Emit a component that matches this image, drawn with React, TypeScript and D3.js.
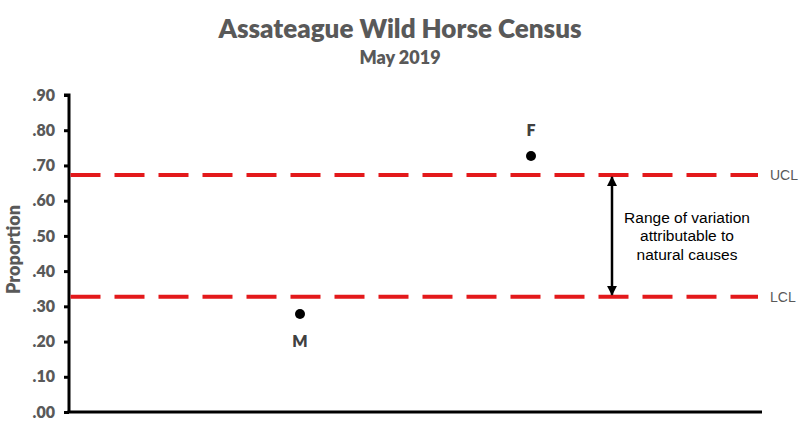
import React, { useEffect, useRef } from 'react';
import * as d3 from 'd3';

const categories = ['M', 'F'];
const proportions = [0.278, 0.727];
const yTicks = [0, 0.1, 0.2, 0.3, 0.4, 0.5, 0.6, 0.7, 0.8, 0.9];
const controlLimits = [
  { name: 'UCL', value: 0.673 },
  { name: 'LCL', value: 0.327 },
];
const noteLines = ['Range of variation', 'attributable to', 'natural causes'];

const W = 803;
const H = 433;

export default function App() {
  const svgRef = useRef<SVGSVGElement>(null);

  useEffect(() => {
    if (!svgRef.current) return;
    const svg = d3.select(svgRef.current);
    svg.selectAll('*').remove();

    const margin = { top: 95, right: 41, bottom: 21, left: 69 };
    const x0 = margin.left;
    const x1 = W - margin.right;
    const y0 = H - margin.bottom;

    const x = d3.scalePoint<string>().domain(categories).range([x0, x1]).padding(1);
    const y = d3.scaleLinear().domain([0, 0.9]).range([y0, margin.top]);

    const grey = '#595959';
    const font = 'Lato, "Open Sans", sans-serif';

    // titles
    svg.append('text')
      .attr('x', 400).attr('y', 38)
      .attr('text-anchor', 'middle')
      .style('font-family', font).style('font-weight', 800)
      .style('font-size', '26px').style('fill', grey)
      .text('Assateague Wild Horse Census');
    svg.append('text')
      .attr('x', 400).attr('y', 64)
      .attr('text-anchor', 'middle')
      .style('font-family', font).style('font-weight', 800)
      .style('font-size', '18px').style('fill', grey)
      .text('May 2019');

    // y axis
    const yAxis = d3.axisLeft(y)
      .tickValues(yTicks)
      .tickSize(5)
      .tickFormat(d => d3.format('.2f')(d as number).replace(/^0/, ''));
    const ya = svg.append('g').attr('transform', `translate(${x0},0)`).call(yAxis);
    ya.select('.domain').attr('stroke', '#000').attr('stroke-width', 3)
      .attr('d', `M${-5},${margin.top}H0V${y0}`);
    ya.selectAll('.tick line').attr('stroke', '#000').attr('stroke-width', 3);
    ya.selectAll('.tick text')
      .attr('x', -14)
      .style('font-family', font).style('font-weight', 800)
      .style('font-size', '16px').style('fill', grey);

    // x axis line
    svg.append('line')
      .attr('x1', x0 - 1.5).attr('x2', x1)
      .attr('y1', y0).attr('y2', y0)
      .attr('stroke', '#000').attr('stroke-width', 3);

    // y axis title
    svg.append('text')
      .attr('transform', `translate(20,${(margin.top + y0) / 2 - 4}) rotate(-90)`)
      .attr('text-anchor', 'middle')
      .style('font-family', font).style('font-weight', 800)
      .style('font-size', '18px').style('fill', grey)
      .text('Proportion');

    // control limits
    controlLimits.forEach(cl => {
      svg.append('line')
        .attr('x1', x0 + 1.5).attr('x2', x1 - 4)
        .attr('y1', y(cl.value)).attr('y2', y(cl.value))
        .attr('stroke', '#E3191B').attr('stroke-width', 4)
        .attr('stroke-dasharray', '30,14');
      svg.append('text')
        .attr('x', 770).attr('y', y(cl.value)).attr('dy', '0.35em')
        .style('font-family', 'Arial, "Liberation Sans", sans-serif')
        .style('font-size', '14px').style('fill', grey)
        .text(cl.name);
    });

    // arrow between limits
    const defs = svg.append('defs');
    defs.append('marker')
      .attr('id', 'ah').attr('viewBox', '0 0 10 10')
      .attr('refX', 9).attr('refY', 5)
      .attr('markerWidth', 4).attr('markerHeight', 4)
      .attr('orient', 'auto-start-reverse')
      .append('path').attr('d', 'M0,0L10,5L0,10Z').attr('fill', '#000');
    const ax = 612;
    svg.append('line')
      .attr('x1', ax).attr('x2', ax)
      .attr('y1', y(controlLimits[0].value) + 2)
      .attr('y2', y(controlLimits[1].value) - 2)
      .attr('stroke', '#000').attr('stroke-width', 2.5)
      .attr('marker-start', 'url(#ah)').attr('marker-end', 'url(#ah)');

    const midY = (y(controlLimits[0].value) + y(controlLimits[1].value)) / 2;
    noteLines.forEach((t, i) => {
      svg.append('text')
        .attr('x', 687).attr('y', midY + (i - 1) * 18.5).attr('dy', '0.35em')
        .attr('text-anchor', 'middle')
        .style('font-family', 'Arial, "Liberation Sans", sans-serif')
        .style('font-size', '15.5px').style('fill', '#000')
        .text(t);
    });

    // points
    categories.forEach((c, i) => {
      const v = proportions[i];
      const cx = x(c)!;
      svg.append('circle')
        .attr('cx', cx).attr('cy', y(v)).attr('r', 5)
        .attr('fill', '#000');
      const above = v > 0.5;
      svg.append('text')
        .attr('x', cx).attr('y', y(v) + (above ? -20 : 33))
        .attr('text-anchor', 'middle')
        .style('font-family', font).style('font-weight', 800)
        .style('font-size', '16px').style('fill', '#404040')
        .text(c);
    });
  }, []);

  return (
    <div style={{ position: 'absolute', left: 0, top: 0, background: '#fff' }}>
      <svg ref={svgRef} width={W} height={H} style={{ display: 'block' }} />
    </div>
  );
}
